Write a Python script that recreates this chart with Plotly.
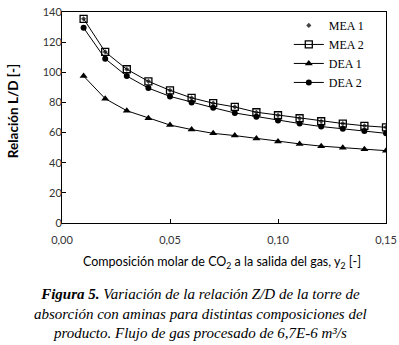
import plotly.graph_objects as go

x_vals = [0.01, 0.02, 0.03, 0.04, 0.05, 0.06, 0.07, 0.08, 0.09, 0.10, 0.11, 0.12, 0.13, 0.14, 0.15]
mea1 = [135.5, 113.5, 102, 94, 88, 83, 79.5, 77, 73.5, 71.5, 69.5, 67.5, 66, 64.5, 63.5]
mea2 = [135.5, 113.5, 102, 94, 88, 83, 79.5, 77, 73.5, 71.5, 69.5, 67.5, 66, 64.5, 63.5]
dea1 = [97.5, 82.5, 74.5, 69.5, 65, 62, 59.5, 58, 56, 54, 52.5, 51, 50, 49, 48]
dea2 = [129.5, 109, 97.5, 89.5, 84, 80, 76.5, 73, 70.5, 68, 66, 64, 62.5, 61, 59.5]
x_ticks = [0.0, 0.05, 0.10, 0.15]
x_tick_text = ["0,00", "0,05", "0,10", "0,15"]
y_ticks = [0, 20, 40, 60, 80, 100, 120, 140]

fig = go.Figure()
fig.add_trace(go.Scatter(x=x_vals, y=mea1, name="MEA 1", mode="markers",
                         marker=dict(symbol="diamond", size=4, color="#444")))
fig.add_trace(go.Scatter(x=x_vals, y=mea2, name="MEA 2", mode="lines+markers",
                         line=dict(color="black", width=1),
                         marker=dict(symbol="square-open", size=7, color="black", line=dict(width=1.3))))
fig.add_trace(go.Scatter(x=x_vals, y=dea1, name="DEA 1", mode="lines+markers",
                         line=dict(color="black", width=1),
                         marker=dict(symbol="triangle-up", size=7, color="black")))
fig.add_trace(go.Scatter(x=x_vals, y=dea2, name="DEA 2", mode="lines+markers",
                         line=dict(color="black", width=1),
                         marker=dict(symbol="circle", size=6, color="black")))

fig.update_layout(
    width=399, height=345,
    margin=dict(l=62, r=13, t=12, b=122, autoexpand=False),
    paper_bgcolor="white", plot_bgcolor="white",
    showlegend=True,
    legend=dict(x=0.70, y=1.005, xanchor="left", yanchor="top", traceorder="normal",
                bgcolor="rgba(0,0,0,0)", itemwidth=30,
                font=dict(family="Liberation Serif", size=12, color="black"),
                tracegroupgap=0),
    font=dict(family="Lato", color="#222"),
)

fig.update_xaxes(range=[0, 0.15], tickvals=x_ticks, ticktext=x_tick_text,
                 ticks="inside", ticklen=4, tickcolor="black", automargin=False,
                 ticklabeloverflow="allow", ticklabelstandoff=7,
                 showline=True, linecolor="black", linewidth=1, mirror=True,
                 showgrid=False, zeroline=False,
                 tickfont=dict(family="Lato", size=11, color="#333"))
fig.update_yaxes(range=[0, 140], tickvals=y_ticks,
                 ticks="inside", ticklen=4, tickcolor="black", automargin=False,
                 ticklabeloverflow="allow", ticklabelstandoff=-3,
                 showline=True, linecolor="black", linewidth=1, mirror=True,
                 showgrid=False, zeroline=False,
                 tickfont=dict(family="Lato", size=11, color="#333"))

# axis titles
fig.add_annotation(text="Composición molar de CO<sub>2</sub> a la salida del gas, y<sub>2</sub> [-]",
                   xref="paper", yref="paper", x=0.494, y=-0.185, xanchor="center", yanchor="middle",
                   showarrow=False, font=dict(family="Lato", size=12.5, color="black"))
fig.add_annotation(text="<b>Relación L/D [-]</b>", textangle=-90,
                   xref="paper", yref="paper", x=-0.151, y=0.53, xanchor="center", yanchor="middle",
                   showarrow=False, font=dict(family="Lato", size=13.5, color="black"))

caption = ("<b><i>Figura 5.</i></b><i> Variación de la relación Z/D de la torre de</i><br>"
           "<i>absorción con aminas para distintas composiciones del</i><br>"
           "<i>producto. Flujo de gas procesado de 6,7E-6 m³/s</i>")
fig.add_annotation(text=caption, xref="paper", yref="paper", x=0.426, y=-0.291,
                   xanchor="center", yanchor="top", showarrow=False, align="center",
                   font=dict(family="Liberation Serif", size=15, color="black"))

fig.write_html("out.html", config={"displayModeBar": False},
               post_script="document.body.style.margin='0';document.body.style.overflow='hidden';")
